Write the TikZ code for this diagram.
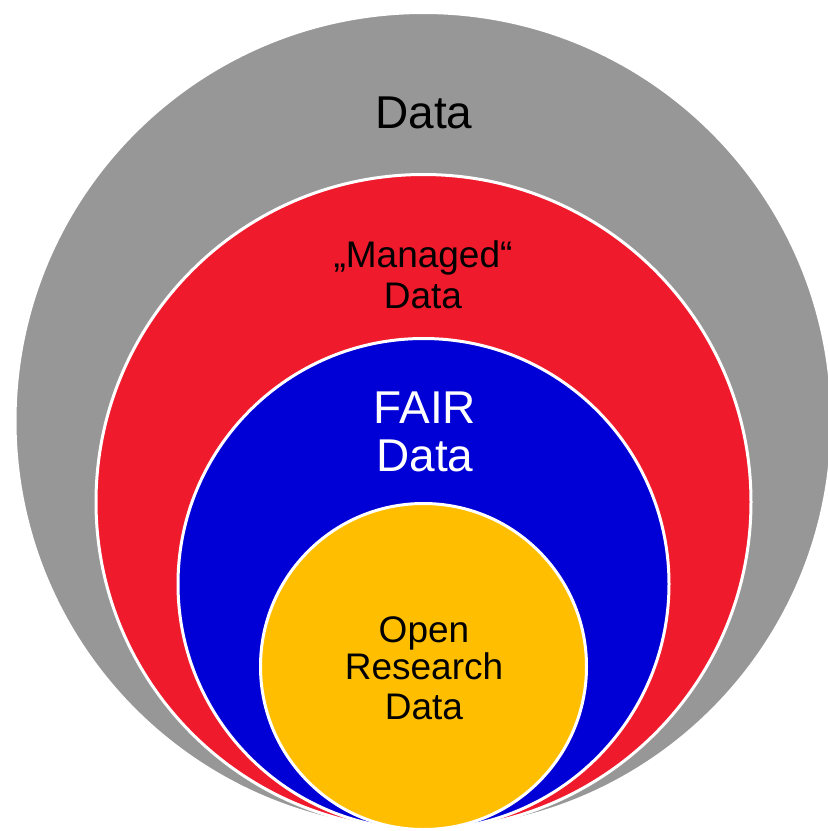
\documentclass[tikz,border=0pt]{standalone}
\usepackage{fontspec}
\setmainfont{Liberation Sans}
\definecolor{cgray}{RGB}{151,151,151}
\definecolor{cred}{RGB}{239,27,45}
\definecolor{cblue}{RGB}{0,0,214}
\definecolor{cyellow}{RGB}{255,191,0}
\tikzset{
  ring/.style={draw=white, line width=3pt},
  lbl/.style={anchor=base, inner sep=0pt},
  big/.style={font=\fontsize{46}{50}\selectfont},
  mid/.style={font=\fontsize{37}{41}\selectfont}
}
\begin{document}
\begin{tikzpicture}[x=1pt,y=-1pt]
\useasboundingbox (0,0) rectangle (828,831);
\clip (0,0) rectangle (828,831);
\coordinate (T) at (423.5,829.5);
\draw[ring, fill=cgray] ([yshift=408.5pt]T) circle[radius=408.5pt];
\draw[ring, fill=cred] ([yshift=327.5pt]T) circle[radius=327.5pt];
\draw[ring, fill=cblue] ([yshift=245.5pt]T) circle[radius=245.5pt];
\draw[ring, fill=cyellow] ([yshift=163pt]T) circle[radius=163pt];
\node[lbl, big, text=black] (data) at (424,128) {Data};
\node[lbl, mid, text=black] (man1) at (423,267) {„Managed“};
\node[lbl, mid, text=black] (man2) at (423,308) {Data};
\node[lbl, big, text=white] (fair1) at (425,423) {FAIR};
\node[lbl, big, text=white] (fair2) at (425,471) {Data};
\node[lbl, mid, text=black] (open1) at (424,642) {Open};
\node[lbl, mid, text=black] (open2) at (424,679) {Research};
\node[lbl, mid, text=black] (open3) at (424,719) {Data};
\end{tikzpicture}
\end{document}
